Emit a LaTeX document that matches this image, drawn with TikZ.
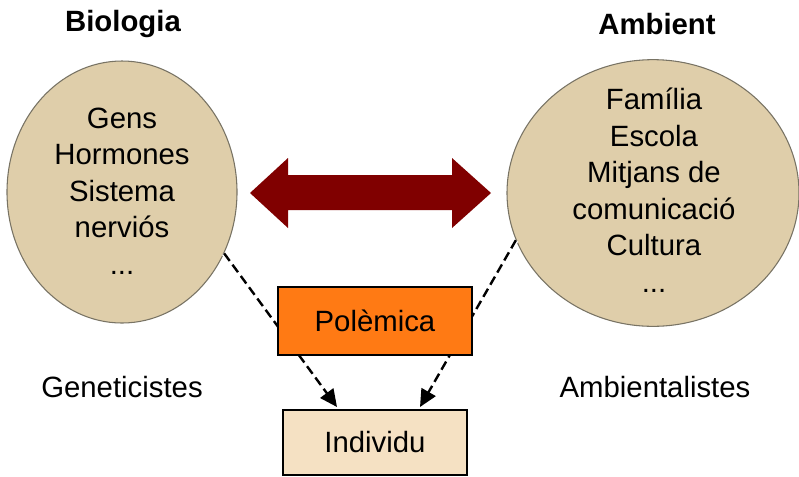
\documentclass[tikz,border=0pt]{standalone}
\usepackage{fontspec}
\setmainfont{Liberation Sans}
\usetikzlibrary{arrows.meta,calc,shapes.geometric}
\definecolor{ellfill}{RGB}{223,206,170}
\definecolor{ellline}{RGB}{120,115,100}
\definecolor{polfill}{RGB}{255,122,20}
\definecolor{indfill}{RGB}{245,225,195}
\definecolor{darkred}{RGB}{128,0,0}
\begin{document}
\begin{tikzpicture}[x=0.75pt,y=-0.75pt,
  txt/.style={font=\fontsize{22}{27.4}\selectfont, align=center, inner sep=0pt},
  title/.style={font=\fontsize{22}{26}\selectfont\bfseries, inner sep=0pt},
  ell/.style={ellipse, draw=ellline, line width=0.8pt, fill=ellfill, inner sep=0pt},
  box/.style={draw=black, line width=1.3pt, inner sep=0pt, font=\fontsize{22}{26}\selectfont},
  dashedarrow/.style={dash pattern=on 7pt off 3.5pt, line width=1.8pt,
     -{Triangle[length=13pt,width=12pt]}},
  halo/.style={white, line width=4pt}
]
\useasboundingbox (0,0) rectangle (799,476);
\fill[white] (0,0) rectangle (799,476);

% ellipses
\node[ell, minimum width=172.5pt, minimum height=196.5pt] (L) at (122,192) {};
\node[ell, minimum width=219pt, minimum height=200pt] (R) at (653,193) {};

\node[txt] (Ltxt) at (122,191) {Gens\\Hormones\\Sistema\\nerviós\\...};
\node[txt] (Rtxt) at (654,190) {Família\\Escola\\Mitjans de\\comunicació\\Cultura\\...};

% titles
\node[title] (tB) at (123,24) {Biologia};
\node[title] (tA) at (657,24) {Ambient};

% side labels
\node[txt] (gen) at (122,387) {Geneticistes};
\node[txt] (amb) at (655,387) {Ambientalistes};

% box positions
\coordinate (Pc) at (375,321);
\coordinate (Ic) at (375,442.5);

% Individu box
\node[box, fill=indfill, minimum width=138pt, minimum height=48.75pt] (I) at (Ic) {Individu};

% dashed connectors
\coordinate (Lend) at (337,407);
\coordinate (Rend) at (420,407);
\draw[halo] (L.-31) -- (Lend);
\draw[halo] (R.199) -- (Rend);
\draw[dashedarrow] (L.-31) -- (Lend);
\draw[dashedarrow] (R.199) -- (Rend);

% Polemica box
\node[box, fill=polfill, minimum width=145.5pt, minimum height=51pt] (P) at (Pc) {Polèmica};

% double arrow
\fill[darkred] (250,193) -- (288,158) -- (288,175) -- (452,175) -- (452,158)
  -- (491,193) -- (452,228) -- (452,210) -- (288,210) -- (288,228) -- cycle;
\end{tikzpicture}
\end{document}
